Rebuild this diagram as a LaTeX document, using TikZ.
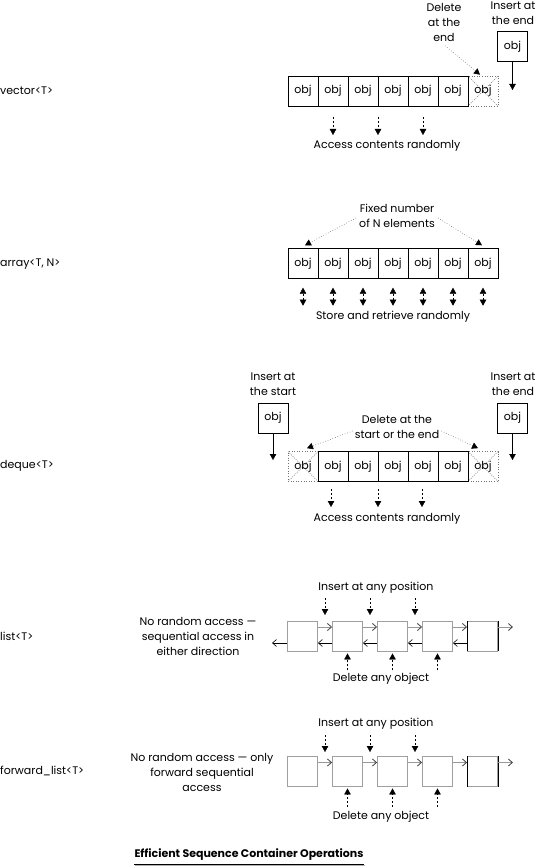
\documentclass[tikz,border=0pt]{standalone}
\usepackage{fontspec}
\setmainfont{Poppins}
\usetikzlibrary{arrows.meta,calc}
\newcommand\dfont{\fontsize{11}{15}\selectfont}
\begin{document}
\begin{tikzpicture}[x=1pt,y=-1pt,
  every node/.style={font=\dfont},
  cell/.style={draw,minimum width=30pt,minimum height=30pt,inner sep=0pt},
  gcell/.style={draw=gray!75,line width=0.9pt,minimum width=30pt,minimum height=30pt,inner sep=0pt},
  xcell/.style={draw=black!55,dotted,line width=0.6pt,minimum width=30pt,minimum height=30pt,inner sep=0pt},
  xline/.style={draw=black!50,line width=0.6pt,dash pattern=on 1pt off 1.2pt},
  lbl/.style={align=center,inner sep=0pt},
  tip/.style={-{Triangle[length=6pt,width=6.5pt]}},
  dsh/.style={-{Triangle[length=6pt,width=6.5pt]},dash pattern=on 2pt off 2pt},
  dsh2/.style={{Triangle[length=6pt,width=6.5pt]}-{Triangle[length=6pt,width=6.5pt]},dash pattern=on 2pt off 2pt},
  dot/.style={draw=black!60,dotted,line width=0.6pt,-{Triangle[length=6pt,width=6.5pt,color=black]}},
  fwd/.style={draw=gray!80,line width=0.8pt,-{Straight Barb[length=4pt,width=7pt,color=black!75]}},
  bwd/.style={line width=0.6pt,-{Straight Barb[length=4pt,width=7pt]}},
]
\useasboundingbox (0,0) rectangle (536,866);

% ---------- vector ----------
\node[anchor=west,inner sep=0pt] (vname) at (0,91) {vector<T>};
\node[xcell] (v7) at (483,91) {};
\draw[xline] ($(v7)+(-15,-15)$) -- ($(v7)+(15,15)$);
\draw[xline] ($(v7)+(15,-15)$) -- ($(v7)+(-15,15)$);
\node[inner sep=0pt] (v7t) at (v7) {obj};
\foreach \i in {1,...,6} \node[cell] (v\i) at ({273+30*\i},91) {obj};
\node[cell] (vins) at (512.5,46.5) {obj};
\node[lbl] (vinsl) at (513,13) {Insert at\\the end};
\coordinate (vinsend) at (512.5,90);
\draw[tip] (vins.south) -- (vinsend);
\node[lbl] (vdel) at (444,22.5) {Delete\\at the\\end};
\draw[dot] ($(vdel.south)+(1,4)$) -- ($(v7.north)+(-3,-1)$);
\foreach \x in {333,378,423} {
  \coordinate (va\x) at (\x,117);
  \coordinate (vb\x) at (\x,135);
  \draw[dsh] (va\x) -- (vb\x);
}
\node[lbl] (vacc) at (387,146) {Access contents randomly};

% ---------- array ----------
\node[anchor=west,inner sep=0pt] (aname) at (0,264) {array<T, N>};
\foreach \i in {1,...,7} \node[cell] (a\i) at ({273+30*\i},263.5) {obj};
\node[lbl] (alab) at (397,216) {Fixed number\\of N elements};
\draw[dot] ($(alab.west)+(-3,2)$) -- ($(a1.north)+(2,-3)$);
\draw[dot] ($(alab.east)+(3,2)$) -- ($(a7.north)+(-1,-3)$);
\foreach \i in {1,...,7}
  \draw[dsh2] ($(a\i.south)+(0,9)$) -- ($(a\i.south)+(0,27)$);
\node[lbl] (astore) at (393,317) {Store and retrieve randomly};

% ---------- deque ----------
\node[anchor=west,inner sep=0pt] (dname) at (0,466) {deque<T>};
\node[xcell] (d1) at (303,466.5) {};
\node[xcell] (d7) at (483,466.5) {};
\draw[xline] ($(d1)+(-15,-15)$) -- ($(d1)+(15,15)$);
\draw[xline] ($(d1)+(15,-15)$) -- ($(d1)+(-15,15)$);
\draw[xline] ($(d7)+(-15,-15)$) -- ($(d7)+(15,15)$);
\draw[xline] ($(d7)+(15,-15)$) -- ($(d7)+(-15,15)$);
\node[inner sep=0pt] (d1t) at (d1) {obj};
\node[inner sep=0pt] (d7t) at (d7) {obj};
\foreach \i in {2,...,6} \node[cell] (d\i) at ({273+30*\i},466.5) {obj};
\node[cell] (dins1) at (273,418) {obj};
\node[cell] (dins2) at (512.5,418) {obj};
\node[lbl] (dinl1) at (273,384.5) {Insert at\\the start};
\node[lbl] (dinl2) at (513,384.5) {Insert at\\the end};
\coordinate (dend1) at (273,460);
\coordinate (dend2) at (512.5,460);
\draw[tip] (dins1.south) -- (dend1);
\draw[tip] (dins2.south) -- (dend2);
\node[lbl] (ddel) at (397,427) {Delete at the\\start or the end};
\draw[dot] ($(ddel.west)+(-2,4)$) -- ($(d1.north)+(4,-3)$);
\draw[dot] ($(ddel.east)+(2,4)$) -- ($(d7.north)+(-5,-3)$);
\foreach \x in {331,378,422} {
  \coordinate (da\x) at (\x,489);
  \coordinate (db\x) at (\x,507);
  \draw[dsh] (da\x) -- (db\x);
}
\node[lbl] (dacc) at (387,519) {Access contents randomly};

% ---------- list ----------
\node[anchor=west,inner sep=0pt] (lname) at (0,636) {list<T>};
\foreach \i in {1,...,5} \node[gcell] (l\i) at ({257.5+45*\i},636) {};
\draw[line width=0.8pt] (l5.north west) -- (l5.south west) (l5.north east) -- (l5.south east);
\foreach \i/\j in {1/2,2/3,3/4,4/5} {
  \draw[fwd] ($(l\i.east)+(0,-9)$) -- ($(l\j.west)+(0,-9)$);
  \draw[bwd] ($(l\j.west)+(0,7)$) -- ($(l\i.east)+(0,7)$);
}
\draw[fwd] ($(l5.east)+(0,-9)$) -- ++(15,0);
\draw[bwd] ($(l1.west)+(0,7)$) -- ++(-15,0);
\foreach \i/\j in {1/2,2/3,3/4} {
  \coordinate (li\i) at ($(l\i.east)!0.5!(l\j.west)$);
  \draw[dsh] ($(li\i)+(0,-38)$) -- ($(li\i)+(0,-21)$);
}
\foreach \i in {2,3,4}
  \draw[dsh] ($(l\i.south)+(0,19)$) -- ($(l\i.south)+(0,2)$);
\node[lbl] (lins) at (376,588) {Insert at any position};
\node[lbl] (ldel) at (381,679) {Delete any object};
\node[lbl] (llab) at (198,636) {No random access —\\sequential access in\\either direction};

% ---------- forward_list ----------
\node[anchor=west,inner sep=0pt] (fname) at (0,771) {forward\_list<T>};
\foreach \i in {1,...,5} \node[gcell] (f\i) at ({257.5+45*\i},771.5) {};
\draw[line width=0.8pt] (f5.north west) -- (f5.south west) (f5.north east) -- (f5.south east);
\foreach \i/\j in {1/2,2/3,3/4,4/5}
  \draw[fwd] ($(f\i.east)+(0,-9)$) -- ($(f\j.west)+(0,-9)$);
\draw[fwd] ($(f5.east)+(0,-9)$) -- ++(15,0);
\foreach \i/\j in {1/2,2/3,3/4} {
  \coordinate (fi\i) at ($(f\i.east)!0.5!(f\j.west)$);
  \draw[dsh] ($(fi\i)+(0,-36.5)$) -- ($(fi\i)+(0,-19.5)$);
}
\foreach \i in {2,3,4}
  \draw[dsh] ($(f\i.south)+(0,20)$) -- ($(f\i.south)+(0,1.5)$);
\node[lbl] (fins) at (376,724) {Insert at any position};
\node[lbl] (fdel) at (381,817) {Delete any object};
\node[lbl] (flab) at (202,772) {No random access — only\\forward sequential\\access};

% ---------- title ----------
\node[lbl,font=\dfont\bfseries] (title) at (249,855) {Efficient Sequence Container Operations};
\draw[line width=0.8pt] ($(title.south west)+(0,3)$) -- ($(title.south east)+(0,3)$);
\draw[gray!60,line width=0.8pt] ($(title.south west)+(1,4.5)$) -- ($(title.south east)+(1,4.5)$);
\end{tikzpicture}
\end{document}
